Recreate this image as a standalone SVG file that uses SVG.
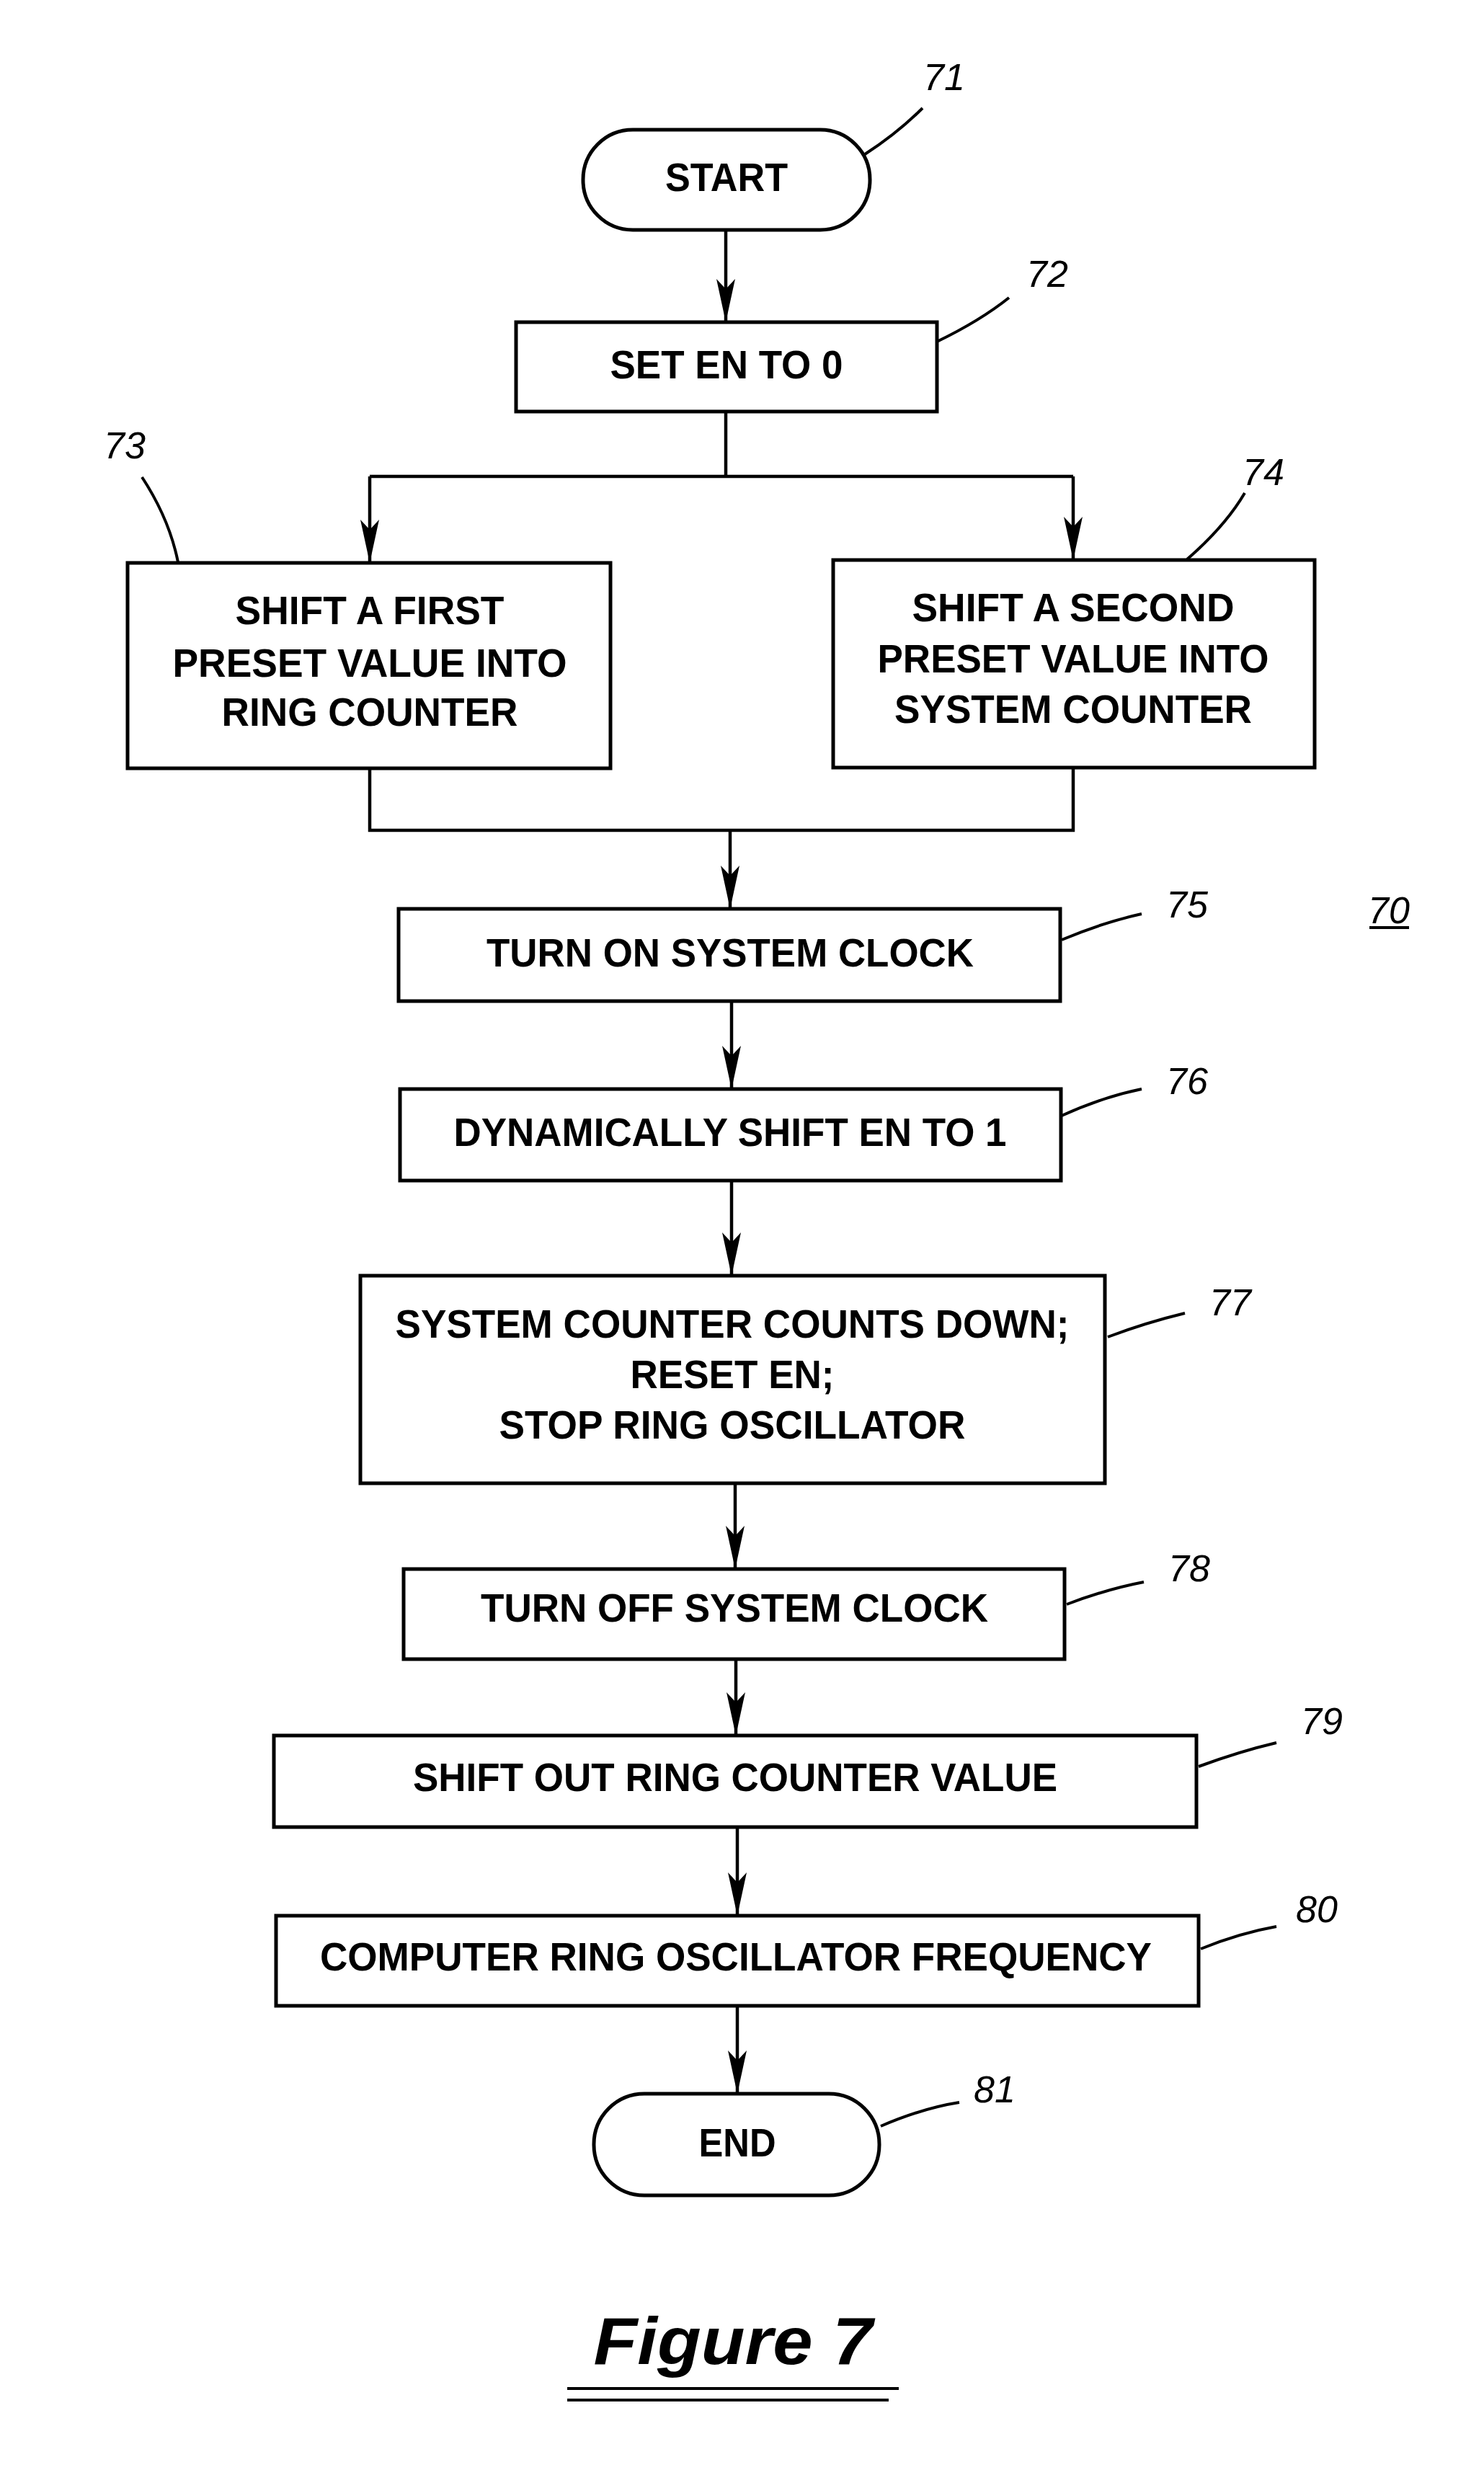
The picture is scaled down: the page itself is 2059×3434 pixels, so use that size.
<svg xmlns="http://www.w3.org/2000/svg" width="2059" height="3434" viewBox="0 0 2059 3434">
<style>
.b{fill:#fff;stroke:#000;stroke-width:5}
.t{font-family:"Liberation Sans",Arial,sans-serif;font-weight:bold;font-size:56px;text-anchor:middle}
.n{font-family:"Liberation Sans",Arial,sans-serif;font-style:italic;font-size:52px;text-anchor:middle}
.l{fill:none;stroke:#000;stroke-width:4}
.c{fill:none;stroke:#000;stroke-width:4.5}
</style>
<defs>
<marker id="a" markerUnits="userSpaceOnUse" markerWidth="24" markerHeight="60" refX="12" refY="58" orient="auto-start-reverse" viewBox="0 0 24 60"><path d="M0,0 L12,12 L24,0 L12,60 Z" fill="#000" transform="rotate(-90 12 30) translate(0 0)"/></marker>
<marker id="h" markerUnits="userSpaceOnUse" markerWidth="60" markerHeight="26" refX="58" refY="13" orient="auto" viewBox="0 0 60 26"><path d="M0,0 L14,13 L0,26 L60,13 Z" fill="#000"/></marker>
</defs>
<rect width="2059" height="3434" fill="#fff"/>
<g id="connectors">
<path class="c" d="M1007,319 V445" marker-end="url(#h)"/>
<path class="c" d="M1007,571 V661 M513,661 H1489"/>
<path class="c" d="M513,661 V779" marker-end="url(#h)"/>
<path class="c" d="M1489,661 V775" marker-end="url(#h)"/>
<path class="c" d="M513,1066 V1152 H1489 V1065"/>
<path class="c" d="M1013,1152 V1259" marker-end="url(#h)"/>
<path class="c" d="M1015,1389 V1509" marker-end="url(#h)"/>
<path class="c" d="M1015,1638 V1768" marker-end="url(#h)"/>
<path class="c" d="M1020,2058 V2175" marker-end="url(#h)"/>
<path class="c" d="M1021,2302 V2406" marker-end="url(#h)"/>
<path class="c" d="M1023,2535 V2656" marker-end="url(#h)"/>
<path class="c" d="M1023,2783 V2903" marker-end="url(#h)"/>
</g>
<g id="n71"><rect class="b" x="809" y="180" width="398" height="139" rx="69"/><text class="t" x="1008" y="265" textLength="170" lengthAdjust="spacingAndGlyphs">START</text>
<path class="l" d="M1200,214 Q1245,185 1280,150"/><text class="n" x="1310" y="125">71</text></g>
<g id="n72"><rect class="b" x="716" y="447" width="584" height="124"/><text class="t" x="1008" y="525" textLength="323" lengthAdjust="spacingAndGlyphs">SET EN TO 0</text>
<path class="l" d="M1300,474 Q1360,445 1400,413"/><text class="n" x="1453" y="398">72</text></g>
<g id="n73"><rect class="b" x="177" y="781" width="670" height="285"/>
<text class="t" x="513" y="866" textLength="373" lengthAdjust="spacingAndGlyphs">SHIFT A FIRST</text>
<text class="t" x="513" y="939" textLength="547" lengthAdjust="spacingAndGlyphs">PRESET VALUE INTO</text>
<text class="t" x="513" y="1007" textLength="411" lengthAdjust="spacingAndGlyphs">RING COUNTER</text>
<path class="l" d="M197,662 Q235,720 247,780"/><text class="n" x="173" y="636">73</text></g>
<g id="n74"><rect class="b" x="1156" y="777" width="668" height="288"/>
<text class="t" x="1489" y="862" textLength="447" lengthAdjust="spacingAndGlyphs">SHIFT A SECOND</text>
<text class="t" x="1489" y="933" textLength="543" lengthAdjust="spacingAndGlyphs">PRESET VALUE INTO</text>
<text class="t" x="1489" y="1003" textLength="496" lengthAdjust="spacingAndGlyphs">SYSTEM COUNTER</text>
<path class="l" d="M1647,776 Q1700,730 1727,684"/><text class="n" x="1753" y="673">74</text></g>
<g id="n75"><rect class="b" x="553" y="1261" width="918" height="128"/><text class="t" x="1013" y="1341" textLength="676" lengthAdjust="spacingAndGlyphs">TURN ON SYSTEM CLOCK</text>
<path class="l" d="M1473,1304 Q1530,1280 1584,1268"/><text class="n" x="1647" y="1273">75</text></g>
<g id="ref70"><text class="n" x="1927" y="1281">70</text><path class="l" d="M1900,1287 H1955"/></g>
<g id="n76"><rect class="b" x="555" y="1511" width="917" height="127"/><text class="t" x="1013" y="1590" textLength="767" lengthAdjust="spacingAndGlyphs">DYNAMICALLY SHIFT EN TO 1</text>
<path class="l" d="M1473,1548 Q1530,1522 1584,1511"/><text class="n" x="1647" y="1518">76</text></g>
<g id="n77"><rect class="b" x="500" y="1770" width="1033" height="288"/>
<text class="t" x="1016" y="1856" textLength="935" lengthAdjust="spacingAndGlyphs">SYSTEM COUNTER COUNTS DOWN;</text>
<text class="t" x="1016" y="1926" textLength="283" lengthAdjust="spacingAndGlyphs">RESET EN;</text>
<text class="t" x="1016" y="1996" textLength="647" lengthAdjust="spacingAndGlyphs">STOP RING OSCILLATOR</text>
<path class="l" d="M1537,1855 Q1590,1835 1644,1822"/><text class="n" x="1707" y="1825">77</text></g>
<g id="n78"><rect class="b" x="560" y="2177" width="917" height="125"/><text class="t" x="1019" y="2250" textLength="704" lengthAdjust="spacingAndGlyphs">TURN OFF SYSTEM CLOCK</text>
<path class="l" d="M1480,2226 Q1535,2205 1587,2195"/><text class="n" x="1650" y="2194">78</text></g>
<g id="n79"><rect class="b" x="380" y="2408" width="1280" height="127"/><text class="t" x="1020" y="2485" textLength="894" lengthAdjust="spacingAndGlyphs">SHIFT OUT RING COUNTER VALUE</text>
<path class="l" d="M1663,2451 Q1720,2430 1771,2418"/><text class="n" x="1834" y="2406">79</text></g>
<g id="n80"><rect class="b" x="383" y="2658" width="1280" height="125"/><text class="t" x="1021" y="2734" textLength="1154" lengthAdjust="spacingAndGlyphs">COMPUTER RING OSCILLATOR FREQUENCY</text>
<path class="l" d="M1666,2704 Q1720,2682 1771,2673"/><text class="n" x="1827" y="2667">80</text></g>
<g id="n81"><rect class="b" x="824" y="2905" width="396" height="141" rx="70"/><text class="t" x="1023" y="2992" textLength="107" lengthAdjust="spacingAndGlyphs">END</text>
<path class="l" d="M1222,2950 Q1280,2925 1331,2917"/><text class="n" x="1380" y="2917">81</text></g>
<g id="caption"><text x="1017" y="3280" style="font-family:'Liberation Sans',Arial,sans-serif;font-weight:bold;font-style:italic;font-size:92px;text-anchor:middle" textLength="387" lengthAdjust="spacingAndGlyphs">Figure 7</text>
<path class="l" d="M787,3314 H1247 M787,3330 H1233"/></g>
</svg>
